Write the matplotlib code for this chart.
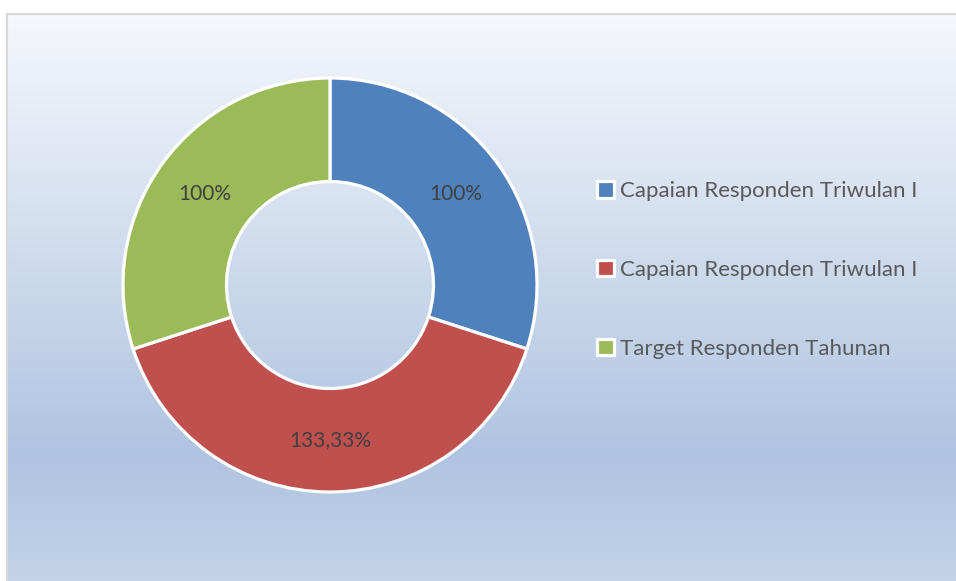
import numpy as np
import matplotlib
matplotlib.use("Agg")
import matplotlib.pyplot as plt
from matplotlib.colors import LinearSegmentedColormap

# data
labels = ["Capaian Responden Triwulan I", "Capaian Responden Triwulan I", "Target Responden Tahunan"]
values = [100, 133.33, 100]
colors = ["#4F81BD", "#C0504D", "#9BBB59"]

W, H = 956, 581
fig = plt.figure(figsize=(W / 100, H / 100), dpi=100)
fig.patch.set_facecolor("white")

# gradient background of the chart area
bg = fig.add_axes([7 / W, -0.01, 1 - 7 / W + 0.01, (H - 14) / H + 0.01])
cmap = LinearSegmentedColormap.from_list(
    "bg", [(0, "#F5F8FC"), (0.77, "#AFC4E1"), (1, "#C3D4E9")])
grad = np.linspace(0, 1, 256).reshape(-1, 1)
bg.imshow(grad, aspect="auto", cmap=cmap, extent=[0, 1, 0, 1], origin="upper")
bg.set_xticks([])
bg.set_yticks([])
for s in ["right", "bottom"]:
    bg.spines[s].set_visible(False)
for s in ["left", "top"]:
    bg.spines[s].set_color("#D9D9D9")
    bg.spines[s].set_linewidth(1.5)

# donut
cx, cy, r = 330, 285, 207
ax = fig.add_axes([(cx - r) / W, (H - cy - r) / H, 2 * r / W, 2 * r / H])
ax.set_facecolor("none")

def fmt(v):
    if float(v).is_integer():
        return "%d%%" % v
    return ("%.2f%%" % v).replace(".", ",")

wedges, texts = ax.pie(values, colors=colors, startangle=90, counterclock=False,
                       radius=1, labels=[fmt(v) for v in values], labeldistance=0.75,
                       wedgeprops=dict(width=0.5, edgecolor="white", linewidth=2.3),
                       textprops=dict(color="#404040", fontsize=15, family="Lato",
                                      ha="center", va="center"))
for t in texts:
    t.set_ha("center")
    t.set_va("center")
ax.set_xlim(-1, 1)
ax.set_ylim(-1, 1)
ax.axis("off")

leg = fig.legend(wedges, labels, loc="center left", bbox_to_anchor=(597 / W, (H - 270) / H),
                 frameon=False, handlelength=0.75, handleheight=0.75, handletextpad=0.28,
                 labelspacing=2.65, borderpad=0, borderaxespad=0,
                 prop=dict(family="Lato", size=16))
for t in leg.get_texts():
    t.set_color("#595959")

fig.savefig("out.png", dpi=100)
